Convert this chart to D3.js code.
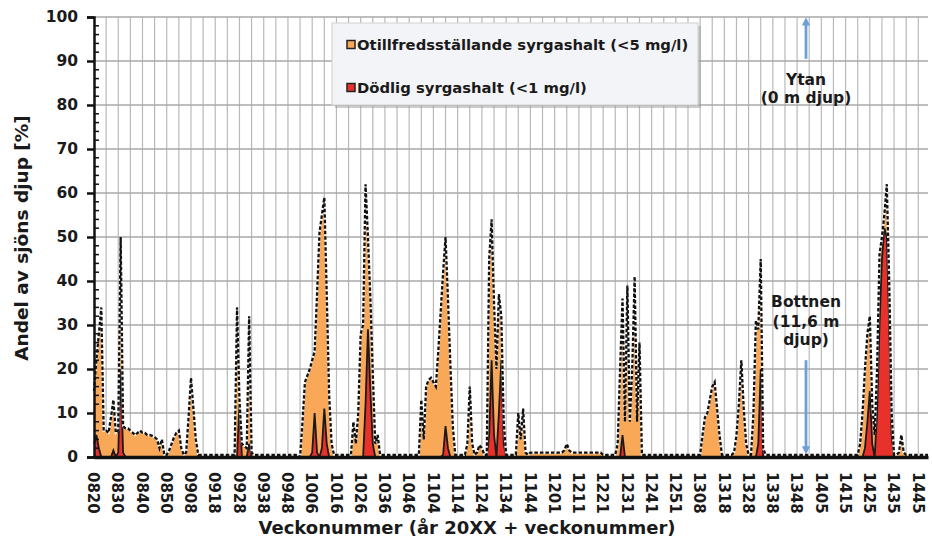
<!DOCTYPE html>
<html><head><meta charset="utf-8">
<script src="https://cdn.jsdelivr.net/npm/d3@7"></script>
<style>
body{margin:0;background:#fff;}
svg{display:block;}
text{font-family:"DejaVu Sans",Verdana,sans-serif;font-weight:bold;fill:#1a1a1a;}
</style>
</head><body><svg id="c" width="932" height="544"></svg>
<script>
// Week categories: [year, first week, last week]
const yearWeeks = [["08",20,52],["09",1,52],["10",1,52],["11",1,53],["12",1,53],["13",1,53],["14",1,49]];
const categories = [];
yearWeeks.forEach(([yy,a,b])=>{for(let w=a;w<=b;w++) categories.push(yy+String(w).padStart(2,"0"));});

const seriesNames = ["Otillfredsställande syrgashalt (<5 mg/l)","Dödlig syrgashalt (<1 mg/l)"];

// Share of lake depth [%] with unsatisfactory oxygen (<5 mg/l), one value per week
const unsatisfactory = [
 15,22,28,34,6,6,5.5,9,13,5.5,
 6,50,7,6.5,6.5,6,5.5,5,5.5,6,
 5.5,5.5,5,5,4.8,4.5,4,2,4,0.5,
 0.5,1.5,3,4.5,5.5,6,2,0.5,1,9,
 18,11,4,0.5,0.5,0.5,0.5,0.5,0.5,0.5,
 0.5,0.5,0.5,0.5,0.5,0.5,0.5,0.5,0.5,34,
 13,3,2.5,2,32,1,0.5,0.5,0.5,0.5,
 0.5,0.5,0.5,0.5,0.5,0.5,0.5,0.5,0.5,0.5,
 0.5,0.5,0.5,0.5,0.5,0,8,17,18.5,20,
 22,24,37,51,55,59,37,14,3,0.5,
 0.5,0.5,0.5,0.5,0.5,0.5,0.5,8,3,10,
 28,30,62,50,36,19,3,5,0.5,0.5,
 0.5,0.5,0.5,0.5,0.5,0.5,0.5,0.5,0.5,0.5,
 0.5,0.5,0.5,0.5,0.5,13,4,16,17.5,18,
 17,16,24,33,42,50,36,21,7,0.5,
 0.5,0.5,0.5,0.5,3,16,3,0.5,1,2.7,
 2,0.5,0.5,45,54,35,20,37,32,8,
 0.5,0.5,0.5,0.5,0.5,10,4,11,1,0.5,
 1,1,1,1,1,1,1,1,1,1,
 1,1,1,1,1.5,3,1.5,1,1,1,
 1,1,1,1,1,1,1,1,1,1,
 0.5,0.5,0.5,0.5,0.5,0.5,3,20,36,8,
 39,8,20,41,8,26,0.5,0.5,0.5,0.5,
 0.5,0.5,0.5,0.5,0.5,0.5,0.5,0.5,0.5,0.5,
 0.5,0.5,0.5,0.5,0.5,0.5,0.5,0.5,0.5,0.5,
 0.5,5,9,10,13,16,17,11,5,0.5,
 0.5,0.5,0.5,0.5,1,5,12,22,11,3,
 0.5,0.5,10,31,29,45,2,0.5,0.5,0.5,
 0.5,0.5,0.5,0.5,0.5,0.5,0.5,0.5,0.5,0.5,
 0.5,0.5,0.5,0.5,0.5,0.5,0.5,0.5,0.5,0.5,
 0.5,0.5,0.5,0.5,0.5,0.5,0.5,0.5,0.5,0.5,
 0.5,0.5,0.5,0.5,0.5,0.5,3,10,20,28,
 32,12,5,20,46,50,55,62,40,10,
 0.5,0.5,1,5,1,0.5,0.5,0.5,0.5,0.5,
 0.5,0.5,0.5,0.5,0.5
];
// Share of lake depth [%] with lethal oxygen (<1 mg/l)
const lethal = [
 3,5,2,0,0,0,0,0,1.5,0,
 1,20,1,0,0,0,0,0,0,0,
 0,0,0,0,0,0,0,0,0,0,
 0,0,0,0,0,0,0,0,0,0,
 0,0,0,0,0,0,0,0,0,0,
 0,0,0,0,0,0,0,0,0,0,
 12,0,0,0,3,0,0,0,0,0,
 0,0,0,0,0,0,0,0,0,0,
 0,0,0,0,0,0,0,0,0,0,
 1,10,1,0,2,11,3,0,0,0,
 0,0,0,0,0,0,0,0,0,0,
 0,0,12,29,15,3,0,0,0,0,
 0,0,0,0,0,0,0,0,0,0,
 0,0,0,0,0,0,0,0,0,0,
 0,0,0,0,0.5,7,2,0,0,0,
 0,0,0,0,0,0,0,0,0,0,
 0,0,0,5,22,5,0,10,22,3,
 0,0,0,0,0,0,0,0,0,0,
 0,0,0,0,0,0,0,0,0,0,
 0,0,0,0,0,0,0,0,0,0,
 0,0,0,0,0,0,0,0,0,0,
 0,0,0,0,0,0,0,0,5,0,
 0,0,0,0,0,0,0,0,0,0,
 0,0,0,0,0,0,0,0,0,0,
 0,0,0,0,0,0,0,0,0,0,
 0,0,0,0,0,0,0,0,0,0,
 0,0,0,0,0,0,0,0,0,0,
 0,0,0,0,3,20,0,0,0,0,
 0,0,0,0,0,0,0,0,0,0,
 0,0,0,0,0,0,0,0,0,0,
 0,0,0,0,0,0,0,0,0,0,
 0,0,0,0,0,0,0,0,2,8,
 15,3,0,10,30,45,52,50,30,5,
 0,0,0,0,0,0,0,0,0,0,
 0,0,0,0,0
];
const yTickValues = [0,10,20,30,40,50,60,70,80,90,100];
const yTitle = "Andel av sjöns djup [%]";
const xTitle = "Veckonummer (år 20XX + veckonummer)";
const colors = ["#f9a857","#e8312a"];

const svg = d3.select("#c");
const L=94, R=928, T=17, B=457;
const x = d3.scalePoint().domain(categories).range([L,R]);
const y = d3.scaleLinear().domain([0,100]).range([B,T]);

// gridlines
const g = svg.append("g");
g.selectAll("line.v").data(categories.filter((d,i)=>i%5===0 && i>0)).enter().append("line")
 .attr("x1",d=>x(d)).attr("x2",d=>x(d)).attr("y1",T).attr("y2",B)
 .attr("stroke","#b9b9b9").attr("stroke-width",1.2);
g.selectAll("line.h").data(yTickValues.filter(v=>v>0)).enter().append("line")
 .attr("x1",L).attr("x2",R).attr("y1",d=>y(d)).attr("y2",d=>y(d))
 .attr("stroke","#a8a8a8").attr("stroke-width",1.6);

// areas
const area = d3.area().x((d,i)=>x(categories[i])).y0(y(0)).y1(d=>y(d));
const line = d3.line().x((d,i)=>x(categories[i])).y(d=>y(d));
svg.append("path").datum(unsatisfactory).attr("d",area).attr("fill",colors[0]);
svg.append("path").datum(lethal).attr("d",area).attr("fill",colors[1]);
svg.append("path").datum(lethal).attr("d",line).attr("fill","none").attr("stroke","#1a1a1a").attr("stroke-width",1.8);
svg.append("path").datum(unsatisfactory).attr("d",line).attr("fill","none").attr("stroke","#ffffff").attr("stroke-width",2.3).attr("stroke-opacity",0.85);
svg.append("path").datum(unsatisfactory).attr("d",line).attr("fill","none").attr("stroke","#111").attr("stroke-width",2.3).attr("stroke-dasharray","3.5,2");

// axes
const yAxis = d3.axisLeft(y).tickValues(yTickValues).tickSize(7).tickFormat(d3.format("d"));
const ya = svg.append("g").attr("transform",`translate(${L},0)`).call(yAxis);
ya.select(".domain").attr("stroke","#111").attr("stroke-width",2.5);
ya.selectAll(".tick line").attr("stroke","#111").attr("stroke-width",2.5);
ya.selectAll(".tick text").attr("x",-16).style("font-size","15.5px").style("font-family","DejaVu Sans").style("font-weight","bold").attr("fill","#1a1a1a");
// minor ticks
svg.append("g").selectAll("line").data(d3.range(0,101,2).filter(v=>v%10!==0)).enter().append("line")
 .attr("x1",L).attr("x2",L+5).attr("y1",d=>y(d)).attr("y2",d=>y(d)).attr("stroke","#111").attr("stroke-width",1.5);

const xAxis = d3.axisBottom(x).tickValues(categories.filter((d,i)=>i%10===0)).tickSize(0);
const xa = svg.append("g").attr("transform",`translate(0,${B})`).call(xAxis);
xa.select(".domain").attr("stroke","#111").attr("stroke-width",3.5);
xa.selectAll(".tick text").attr("transform","rotate(90)").attr("x",15).attr("y",1).attr("dy","0.35em")
 .style("text-anchor","start").style("font-size","15px").style("font-family","DejaVu Sans").style("font-weight","bold").attr("fill","#1a1a1a");

// titles
svg.append("text").attr("transform",`translate(22,${238}) rotate(-90)`).attr("text-anchor","middle")
 .attr("dy","0.35em").style("font-size","18.5px").text(yTitle);
svg.append("text").attr("x",467).attr("y",534).attr("text-anchor","middle").style("font-size","18px").text(xTitle);

// legend
const lg = svg.append("g");
lg.append("rect").attr("x",335).attr("y",26).attr("width",366).attr("height",82).attr("fill","#9a9a9a").attr("opacity",0.5);
lg.append("rect").attr("x",332).attr("y",23).attr("width",366).attr("height",82).attr("fill","#f3f4f7").attr("stroke","#d0d0d0");
seriesNames.forEach((n,i)=>{
  const cy = 44.5 + i*43;
  lg.append("rect").attr("x",347).attr("y",cy-4).attr("width",8).attr("height",8).attr("fill",colors[i]).attr("stroke","#222").attr("stroke-width",1.5);
  lg.append("text").attr("x",357).attr("y",cy).attr("dy","0.35em").style("font-size","14.8px").text(n);
});

// annotations
const ax = 806;
const defs = svg.append("defs");
defs.append("marker").attr("id","ah").attr("viewBox","0 0 10 10").attr("refX",5).attr("refY",5)
 .attr("markerWidth",3).attr("markerHeight",3).attr("orient","auto-start-reverse")
 .append("path").attr("d","M0,0 L10,5 L0,10 z").attr("fill","#6e9fd6");
svg.append("line").attr("x1",ax).attr("x2",ax).attr("y1",y(90.5)).attr("y2",y(99)).attr("stroke","#6e9fd6").attr("stroke-width",2.8).attr("marker-end","url(#ah)");
svg.append("line").attr("x1",ax).attr("x2",ax).attr("y1",y(22)).attr("y2",y(1.5)).attr("stroke","#6e9fd6").attr("stroke-width",2.8).attr("marker-end","url(#ah)");
[["Ytan",80],["(0 m djup)",98],["Bottnen",302],["(11,6 m",322],["djup)",340]].forEach(([t,yy])=>{
  svg.append("text").attr("x",ax).attr("y",yy).attr("dy","0.35em").attr("text-anchor","middle").style("font-size","15.5px").text(t);
});
</script></body></html>
